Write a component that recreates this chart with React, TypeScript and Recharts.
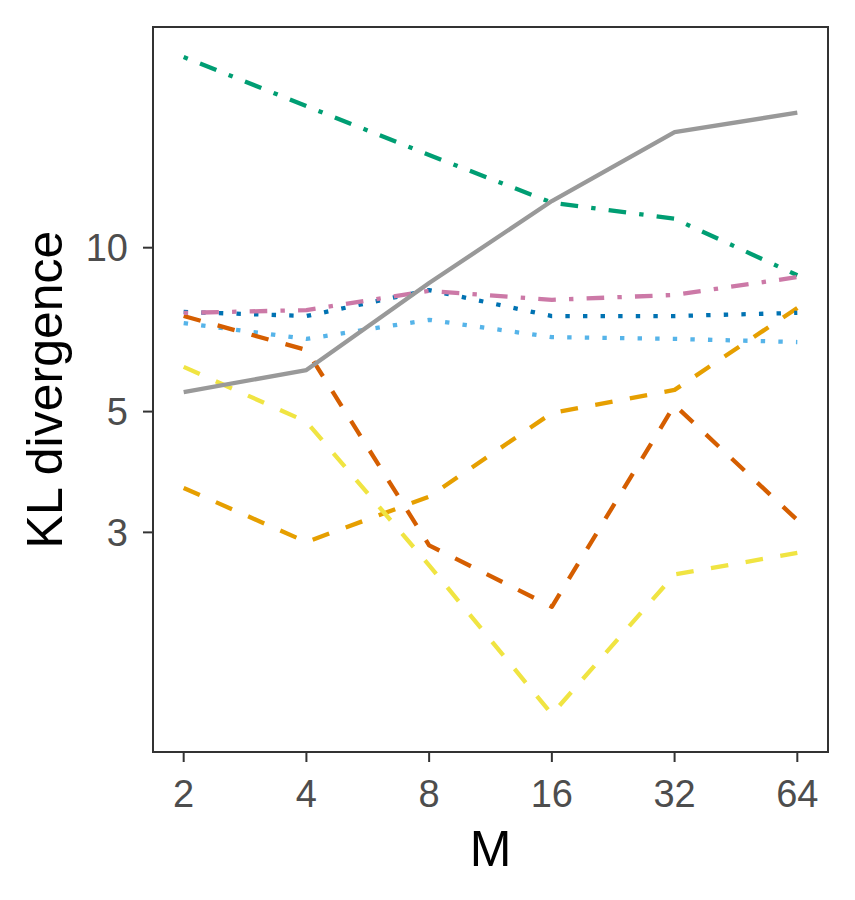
import React from 'react';
import {
  LineChart,
  Line,
  XAxis,
  YAxis,
  ReferenceArea,
} from 'recharts';

// M values (x axis, log2 spaced)
const mValues = [2, 4, 8, 16, 32, 64];
const yTicks = [3, 5, 10];

// KL divergence per series
const grey = [5.43, 5.96, 8.61, 12.18, 16.3, 17.7];
const green = [22.4, 18.2, 14.8, 12.1, 11.3, 8.9];
const pink = [7.59, 7.68, 8.33, 8.02, 8.19, 8.83];
const blue = [7.62, 7.49, 8.36, 7.49, 7.49, 7.59];
const skyBlue = [7.27, 6.8, 7.37, 6.85, 6.8, 6.71];
const vermillion = [7.49, 6.49, 2.84, 2.19, 5.14, 3.16];
const yellow = [6.04, 4.79, 2.61, 1.39, 2.51, 2.75];
const orange = [3.62, 2.88, 3.49, 4.97, 5.48, 7.75];

const data = mValues.map((m, i) => ({
  M: m,
  orange: orange[i],
  skyBlue: skyBlue[i],
  green: green[i],
  yellow: yellow[i],
  blue: blue[i],
  vermillion: vermillion[i],
  pink: pink[i],
  grey: grey[i],
}));

// ggplot-ish dash patterns (unit ~ line width)
const u = 4.4;
const DASHED = `${4 * u} ${4 * u}`;
const DOTTED = `${u} ${3 * u}`;
const DOTDASH = `${u} ${3 * u} ${4 * u} ${3 * u}`;

const series = [
  { key: 'orange', color: '#E69F00', dash: DASHED },
  { key: 'skyBlue', color: '#56B4E9', dash: DOTTED },
  { key: 'green', color: '#009E73', dash: DOTDASH },
  { key: 'yellow', color: '#F0E442', dash: DASHED },
  { key: 'blue', color: '#0072B2', dash: DOTTED },
  { key: 'vermillion', color: '#D55E00', dash: DASHED },
  { key: 'pink', color: '#CC79A7', dash: DOTDASH },
  { key: 'grey', color: '#999999', dash: undefined },
];

const FONT = '"Liberation Sans", Arial, Helvetica, sans-serif';
const xDomain = [Math.pow(2, 0.75), Math.pow(2, 6.25)];
const yDomain = [1.185, 25.43];

export default function App() {
  return (
    <div style={{ position: 'absolute', left: 0, top: 0, width: 855, height: 900, background: '#fff' }}>
      <LineChart
        width={855}
        height={900}
        data={data}
        margin={{ top: 27, right: 27, left: 0, bottom: 0 }}
      >
        <XAxis
          dataKey="M"
          type="number"
          scale="log"
          domain={xDomain}
          allowDataOverflow
          ticks={mValues}
          axisLine={false}
          tickSize={10}
          tickMargin={18}
          tickLine={{ stroke: '#333333', strokeWidth: 2 }}
          tick={{ fill: '#4D4D4D', fontSize: 38, fontFamily: FONT }}
          height={148}
          label={{
            value: 'M',
            position: 'insideBottom',
            offset: 34,
            style: { fill: '#000', fontSize: 50, fontFamily: FONT },
          }}
        />
        <YAxis
          type="number"
          scale="log"
          domain={yDomain}
          allowDataOverflow
          ticks={yTicks}
          axisLine={false}
          tickSize={10}
          tickMargin={15}
          tickLine={{ stroke: '#333333', strokeWidth: 2 }}
          tick={{ fill: '#4D4D4D', fontSize: 38, fontFamily: FONT }}
          width={153}
          label={{
            value: 'KL divergence',
            angle: -90,
            position: 'insideLeft',
            offset: 44,
            style: { fill: '#000', fontSize: 50, fontFamily: FONT, textAnchor: 'middle' },
          }}
        />
        {series.map((s) => (
          <Line
            key={s.key}
            dataKey={s.key}
            type="linear"
            stroke={s.color}
            strokeWidth={4.3}
            strokeDasharray={s.dash}
            strokeLinejoin="round"
            dot={false}
            activeDot={false}
            isAnimationActive={false}
          />
        ))}
        <ReferenceArea
          x1={xDomain[0]}
          x2={xDomain[1]}
          y1={yDomain[0]}
          y2={yDomain[1]}
          fill="none"
          fillOpacity={0}
          stroke="#333333"
          strokeWidth={2}
          ifOverflow="visible"
        />
      </LineChart>
    </div>
  );
}
